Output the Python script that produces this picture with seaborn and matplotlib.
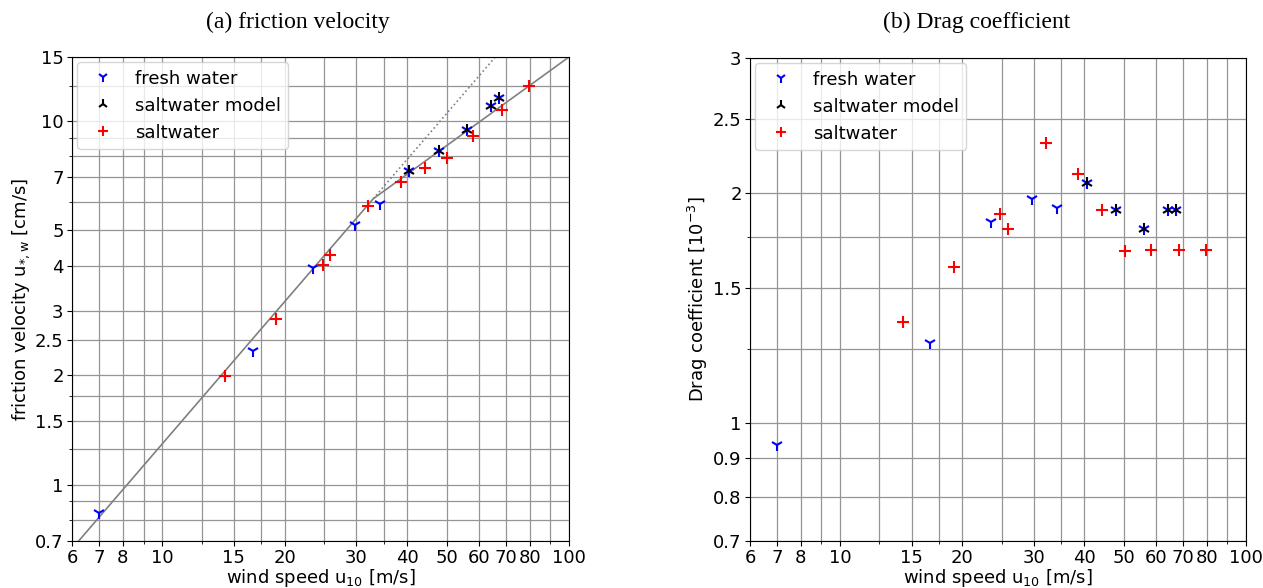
import matplotlib
matplotlib.use("Agg")
import matplotlib.pyplot as plt
import seaborn as sns
from matplotlib.ticker import FixedLocator, FixedFormatter, NullFormatter

# ---------------- data ----------------
fresh_u10 = [7.0, 16.7, 23.5, 29.7, 34.3, 40.5, 47.9, 56.2, 64.2, 67.4]
fresh_ustar = [0.834, 2.33, 3.95, 5.17, 5.93, 7.28, 8.26, 9.43, 11.0, 11.6]
fresh_cd = [0.935, 1.273, 1.833, 1.96, 1.91, 2.057, 1.898, 1.791, 1.897, 1.896]

model_u10 = [40.5, 47.9, 56.2, 64.2, 67.4]
model_ustar = [7.28, 8.26, 9.43, 11.0, 11.6]
model_cd = [2.057, 1.898, 1.791, 1.897, 1.896]

salt_u10 = [14.3, 19.05, 24.8, 25.9, 32.1, 38.6, 44.3, 50.2, 58.2, 68.3, 79.7]
salt_ustar = [1.99, 2.86, 4.01, 4.28, 5.84, 6.80, 7.45, 7.92, 9.10, 10.7, 12.46]
salt_cd = [1.356, 1.596, 1.876, 1.794, 2.32, 2.116, 1.898, 1.676, 1.683, 1.683, 1.683]

fit_u10 = [6.23, 33.0, 100.0]
fit_ustar = [0.70, 6.11, 15.0]
ext_u10 = [33.0, 65.9]
ext_ustar = [6.11, 15.0]

x_major = [6, 7, 8, 10, 15, 20, 30, 40, 50, 60, 70, 80, 100]
x_labels = ["6", "7", "8", "10", "15", "20", "30", "40", "50", "60", "70", "80", "100"]
x_minor = [9, 12.5, 17.5, 25, 35, 90]

ya_major = [0.7, 1, 1.5, 2, 2.5, 3, 4, 5, 7, 10, 15]
ya_labels = ["0.7", "1", "1.5", "2", "2.5", "3", "4", "5", "7", "10", "15"]
ya_minor = [0.8, 0.9, 1.25, 1.75, 6, 8, 9, 12.5]

yb_major = [0.7, 0.8, 0.9, 1, 1.5, 2, 2.5, 3]
yb_labels = ["0.7", "0.8", "0.9", "1", "1.5", "2", "2.5", "3"]
yb_minor = [1.25, 1.75]

series_labels = ["fresh water", "saltwater model", "saltwater"]

# ---------------- figure ----------------
plt.rcParams['font.family'] = ['DejaVu Sans']
W, H = 1263, 588
FS = 13
fig = plt.figure(figsize=(W / 100, H / 100), dpi=100)
ax1 = fig.add_axes([72 / W, 47 / H, 497 / W, 484 / H])
ax2 = fig.add_axes([750 / W, 47 / H, 496 / W, 483 / H])

MS = 9
MEW = 1.5


def markers(ax, x, y, marker, color, label):
    sns.lineplot(x=x, y=y, ax=ax, marker=marker, linestyle='', color=color,
                 markeredgecolor=color, markersize=MS, markeredgewidth=MEW,
                 label=label, estimator=None, sort=False)


def style_axis(ax, ymaj, ylab, ymin, ylim, ylabel, ylab_x):
    ax.set_xscale('log')
    ax.set_yscale('log')
    ax.set_xlim(6, 100)
    ax.set_ylim(*ylim)
    ax.xaxis.set_major_locator(FixedLocator(x_major))
    ax.xaxis.set_major_formatter(FixedFormatter(x_labels))
    ax.xaxis.set_minor_locator(FixedLocator(x_minor))
    ax.xaxis.set_minor_formatter(NullFormatter())
    ax.yaxis.set_major_locator(FixedLocator(ymaj))
    ax.yaxis.set_major_formatter(FixedFormatter(ylab))
    ax.yaxis.set_minor_locator(FixedLocator(ymin))
    ax.yaxis.set_minor_formatter(NullFormatter())
    ax.tick_params(which='major', labelsize=FS, pad=2.5)
    ax.grid(True, which='both', color='#959595', linewidth=0.9)
    ax.set_axisbelow(True)
    for s in ax.spines.values():
        s.set_color('black')
    ax.set_xlabel("wind speed u$_{\\mathregular{10}}$ [m/s]", fontsize=FS)
    ax.xaxis.label.set_va('center')
    ax.xaxis.set_label_coords(0.5, -37 / 484)
    ax.set_ylabel(ylabel, fontsize=FS)
    ax.yaxis.label.set_va('center')
    ax.yaxis.set_label_coords(ylab_x, 0.5)


# (a) friction velocity
sns.lineplot(x=fit_u10, y=fit_ustar, ax=ax1, color='#808080', linewidth=1.2,
             estimator=None, sort=False)
sns.lineplot(x=ext_u10, y=ext_ustar, ax=ax1, color='#808080', linewidth=1.2,
             linestyle=':', estimator=None, sort=False)
markers(ax1, fresh_u10, fresh_ustar, '1', 'blue', series_labels[0])
markers(ax1, model_u10, model_ustar, '2', 'black', series_labels[1])
markers(ax1, salt_u10, salt_ustar, '+', 'red', series_labels[2])
style_axis(ax1, ya_major, ya_labels, ya_minor, (0.7, 15),
           "friction velocity u$_{\\mathregular{*,w}}$ [cm/s]", (21 - 72) / 497)

# (b) drag coefficient
markers(ax2, fresh_u10, fresh_cd, '1', 'blue', series_labels[0])
markers(ax2, model_u10, model_cd, '2', 'black', series_labels[1])
markers(ax2, salt_u10, salt_cd, '+', 'red', series_labels[2])
style_axis(ax2, yb_major, yb_labels, yb_minor, (0.7, 3),
           "Drag coefficient [10$^{\\mathregular{-3}}$]", (698 - 750) / 496)

for ax in (ax1, ax2):
    handles, labels = ax.get_legend_handles_labels()
    keep = [(h, l) for h, l in zip(handles, labels) if l in series_labels]
    ax.legend([h for h, _ in keep], [l for _, l in keep], loc='upper left',
              fontsize=FS, numpoints=1, borderaxespad=0.3, markerscale=0.85)

fig.text(298 / W, 1 - 22 / H, "(a) friction velocity", ha='center', va='center',
         family='Liberation Serif', fontsize=17)
fig.text(977 / W, 1 - 22 / H, "(b) Drag coefficient", ha='center', va='center',
         family='Liberation Serif', fontsize=17)

fig.savefig("out.png", dpi=100)
